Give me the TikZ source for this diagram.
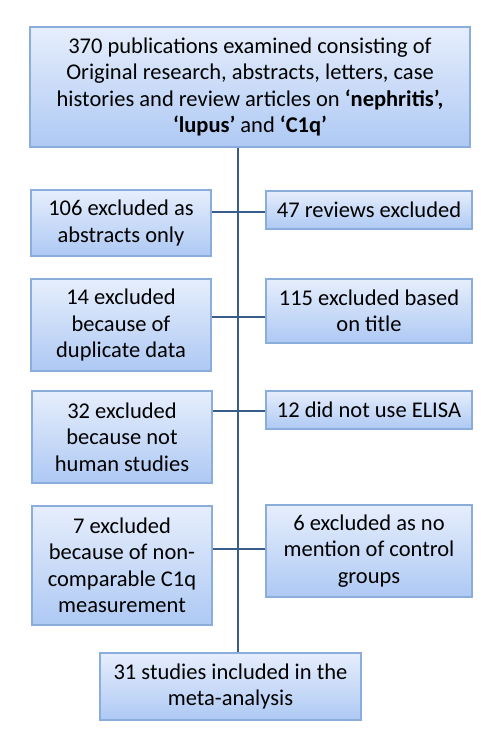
\documentclass[tikz,border=0pt]{standalone}
\usepackage{fontspec}
\setmainfont{Carlito}
\usetikzlibrary{positioning}
\definecolor{boxtop}{HTML}{E6EEFC}
\definecolor{boxbot}{HTML}{AEC9F4}
\definecolor{boxedge}{HTML}{8AADDC}
\definecolor{linkblue}{HTML}{385D8A}

\begin{document}
\begin{tikzpicture}[
  x=1pt, y=-1pt,
  box/.style={draw=boxedge, line width=1.2pt, top color=boxtop, bottom color=boxbot,
    align=center, inner sep=0pt, font=\fontsize{22.5}{26.5}\selectfont},
  link/.style={draw=linkblue, line width=2pt}
]
\useasboundingbox (0,0) rectangle (500,749);
\node[box, minimum width=440pt, minimum height=120pt] (start) at (250,87)
  {370 publications examined consisting of\\Original research, abstracts, letters, case\\histories and review articles on \textbf{‘nephritis’,}\\\textbf{‘lupus’} and \textbf{‘C1q’}};
% left column
\node[box, minimum width=180pt, minimum height=66pt] (abstr) at (121,223) {106 excluded as\\abstracts only};
\node[box, minimum width=180pt, minimum height=92pt] (dupl) at (121,325) {14 excluded\\because of\\duplicate data};
\node[box, minimum width=180pt, minimum height=92pt] (human) at (122,437) {32 excluded\\because not\\human studies};
\node[box, minimum width=180pt, minimum height=119pt] (noncomp) at (122,565.5) {7 excluded\\because of non-\\comparable C1q\\measurement};
% right column
\node[box, minimum width=206pt, minimum height=38pt] (review) at (369,210) {47 reviews excluded};
\node[box, minimum width=206pt, minimum height=64pt] (title) at (369,311) {115 excluded based\\on title};
\node[box, minimum width=206pt, minimum height=38pt] (elisa) at (369,410) {12 did not use ELISA};
\node[box, minimum width=206pt, minimum height=92pt] (control) at (369,551) {6 excluded as no\\mention of control\\groups};
\node[box, minimum width=261pt, minimum height=67pt] (final) at (230.5,686.5) {31 studies included in the\\meta-analysis};
% spine and branches
\coordinate (j1) at (238,212);
\coordinate (j2) at (238,317);
\coordinate (j3) at (238,411);
\coordinate (j4) at (238,549);
\draw[link] (start.south -| j1) -- (final.north -| j1);
\draw[link] (abstr.east |- j1) -- (review.west |- j1);
\draw[link] (dupl.east |- j2) -- (title.west |- j2);
\draw[link] (human.east |- j3) -- (elisa.west |- j3);
\draw[link] (noncomp.east |- j4) -- (control.west |- j4);
\end{tikzpicture}
\end{document}
